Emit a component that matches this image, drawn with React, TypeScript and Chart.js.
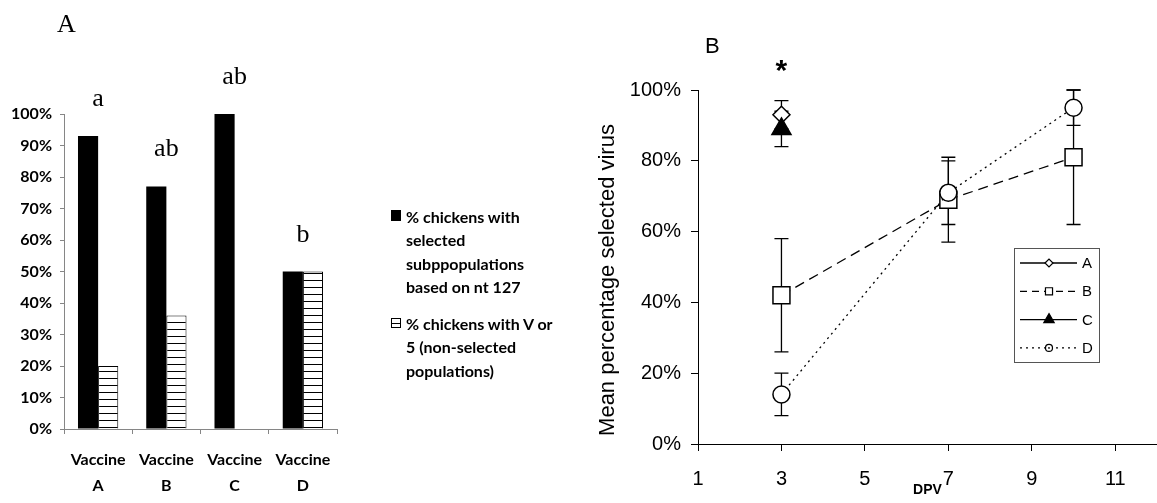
import React, { useEffect, useRef } from "react";
import { Chart, registerables } from "chart.js";

Chart.register(...registerables);

// ---------- Panel A data ----------
const vaccineLabels = [
  ["Vaccine", "A"],
  ["Vaccine", "B"],
  ["Vaccine", "C"],
  ["Vaccine", "D"],
];
const selectedPct = [93, 77, 100, 50];
const nonSelectedPct = [20, 36, 0, 50];
const sigLetters = ["a", "ab", "ab", "b"];
const legendA1 = ["% chickens with", "selected", "subppopulations", "based on nt 127"];
const legendA2 = ["% chickens with V or", "5 (non-selected", "populations)"];

// ---------- Panel B data ----------
const dpvTicks = [1, 3, 5, 7, 9, 11];
const seriesNames = ["A", "B", "C", "D"];
const yTitleB = "Mean percentage selected virus";
const dpvA = [3];
const meanA = [93];
const errA = [4];
const dpvB = [3, 7, 10];
const meanB = [42, 69, 81];
const errB = [16, 12, 19];
const dpvC = [3];
const meanC = [89];
const errC = [5];
const dpvD = [3, 7, 10];
const meanD = [14, 71, 95];
const errD = [6, 9, 5];

const toPts = (xs: number[], ys: number[]) => xs.map((x, i) => ({ x, y: ys[i] }));

const letterPlugin = {
  id: "sigLetters",
  afterDraw(chart: any) {
    const { ctx, scales } = chart;
    const x = scales.x;
    const y = scales.y;
    ctx.save();
    ctx.fillStyle = "#000";
    ctx.font = '26px "Liberation Serif"';
    ctx.textAlign = "center";
    ctx.textBaseline = "alphabetic";
    sigLetters.forEach((t, i) => {
      const top = Math.max(selectedPct[i], nonSelectedPct[i]);
      ctx.fillText(t, x.getPixelForValue(i), y.getPixelForValue(top) - 30);
    });
    ctx.textAlign = "left";
    ctx.fillText("A", 57, 32);
    ctx.restore();
  },
};

function drawMarker(ctx: CanvasRenderingContext2D, style: string, x: number, y: number, r: number, fill: string) {
  ctx.beginPath();
  if (style === "rectRot") {
    ctx.moveTo(x - r, y);
    ctx.lineTo(x, y - r);
    ctx.lineTo(x + r, y);
    ctx.lineTo(x, y + r);
    ctx.closePath();
  } else if (style === "rect") {
    const s = r * Math.SQRT1_2;
    ctx.rect(x - s, y - s, 2 * s, 2 * s);
  } else if (style === "triangle") {
    for (let k = 0; k < 3; k++) {
      const a = (k * 2 * Math.PI) / 3;
      const px = x + Math.sin(a) * r;
      const py = y - Math.cos(a) * r;
      if (k === 0) ctx.moveTo(px, py);
      else ctx.lineTo(px, py);
    }
    ctx.closePath();
  } else {
    ctx.arc(x, y, r, 0, Math.PI * 2);
  }
  ctx.fillStyle = fill;
  ctx.fill();
  ctx.stroke();
  if (style === "circle") {
    ctx.beginPath();
    ctx.arc(x, y, 0.9, 0, Math.PI * 2);
    ctx.fillStyle = "#000";
    ctx.fill();
  }
}

const errorBarsPlugin = {
  id: "errorBars",
  beforeDatasetsDraw(chart: any) {
    const { ctx, scales } = chart;
    const x = scales.x;
    const y = scales.y;
    ctx.save();
    ctx.strokeStyle = "#000";
    ctx.lineWidth = 1.3;
    ctx.setLineDash([]);
    chart.data.datasets.forEach((ds: any) => {
      ds.data.forEach((p: any, i: number) => {
        const e = ds.errors[i];
        const px = x.getPixelForValue(p.x);
        const t = y.getPixelForValue(p.y + e);
        const b = y.getPixelForValue(p.y - e);
        const cap = 7;
        ctx.beginPath();
        ctx.moveTo(px, t);
        ctx.lineTo(px, b);
        ctx.moveTo(px - cap, t);
        ctx.lineTo(px + cap, t);
        ctx.moveTo(px - cap, b);
        ctx.lineTo(px + cap, b);
        ctx.stroke();
      });
    });
    ctx.restore();
  },
};

const legendBPlugin = {
  id: "legendB",
  afterDraw(chart: any) {
    const { ctx, chartArea } = chart;
    const left = chartArea.left + 316;
    const top = chartArea.top + 158;
    const w = 85;
    const h = 114;
    ctx.save();
    ctx.fillStyle = "#fff";
    ctx.fillRect(left, top, w, h);
    ctx.strokeStyle = "#555";
    ctx.lineWidth = 1;
    ctx.strokeRect(left + 0.5, top + 0.5, w, h);
    const styles = ["rectRot", "rect", "triangle", "circle"];
    const dashes = [[], [7, 5], [], [2, 4]];
    const fills = ["#fff", "#fff", "#000", "#fff"];
    const sizes = [4, 5, 6, 3.5];
    seriesNames.forEach((name, i) => {
      const cy = top + 15 + i * 28.3;
      ctx.strokeStyle = "#000";
      ctx.lineWidth = 1.3;
      ctx.setLineDash(dashes[i]);
      ctx.beginPath();
      ctx.moveTo(left + 6, cy);
      ctx.lineTo(left + 63, cy);
      ctx.stroke();
      ctx.setLineDash([]);
      ctx.lineWidth = 1.2;
      drawMarker(ctx, styles[i], left + 35, cy, sizes[i], fills[i]);
      ctx.fillStyle = "#000";
      ctx.font = '15px "Liberation Sans"';
      ctx.textAlign = "left";
      ctx.textBaseline = "middle";
      ctx.fillText(name, left + 68, cy + 1);
    });
    // y-axis title
    ctx.save();
    ctx.translate(chartArea.left - 90, (chartArea.top + chartArea.bottom) / 2 + 13);
    ctx.rotate(-Math.PI / 2);
    ctx.font = '22px "Liberation Sans"';
    ctx.textAlign = "center";
    ctx.textBaseline = "middle";
    ctx.fillText(yTitleB, 0, 0);
    ctx.restore();
    // panel label and significance star
    ctx.textBaseline = "alphabetic";
    ctx.textAlign = "left";
    ctx.font = '22px "Liberation Sans"';
    ctx.fillText("B", 165, 53);
    ctx.font = 'bold 30px "Liberation Sans"';
    ctx.textAlign = "center";
    ctx.fillText("*", chart.scales.x.getPixelForValue(3), 80);
    ctx.restore();
  },
};

export default function App() {
  const refA = useRef<HTMLCanvasElement>(null);
  const refB = useRef<HTMLCanvasElement>(null);

  useEffect(() => {
    const cA = refA.current!;
    const cB = refB.current!;
    const pc = document.createElement("canvas");
    pc.width = 8;
    pc.height = 7;
    const pctx = pc.getContext("2d")!;
    pctx.fillStyle = "#fff";
    pctx.fillRect(0, 0, 8, 7);
    pctx.fillStyle = "#000";
    pctx.fillRect(0, 0, 8, 1);
    const hatch = cA.getContext("2d")!.createPattern(pc, "repeat");

    const tickFontA = { family: "Lato", weight: "bold" as const, size: 16 };

    const chartA = new Chart(cA, {
      type: "bar",
      data: {
        labels: vaccineLabels as any,
        datasets: [
          {
            label: legendA1.join(" "),
            data: selectedPct,
            backgroundColor: "#000",
            borderWidth: 0,
          },
          {
            label: legendA2.join(" "),
            data: nonSelectedPct,
            backgroundColor: hatch as any,
            borderColor: "#000",
            borderWidth: 1,
          },
        ],
      },
      options: {
        responsive: false,
        animation: false,
        layout: { autoPadding: false, padding: { left: 0, right: 33, top: 114, bottom: 0 } },
        datasets: { bar: { categoryPercentage: 0.59, barPercentage: 1 } },
        plugins: { legend: { display: false }, tooltip: { enabled: false } },
        scales: {
          x: {
            grid: { drawOnChartArea: false, drawTicks: true, tickLength: 5, color: "#868686", offset: true },
            border: { color: "#868686" },
            ticks: {
              font: { ...tickFontA, lineHeight: 26 / 16 },
              color: "#000",
              padding: 13,
              maxRotation: 0,
            },
            afterFit: (s: any) => {
              s.height = 74;
            },
          },
          y: {
            min: 0,
            max: 100,
            ticks: {
              stepSize: 10,
              callback: (v: any) => v + "%",
              font: tickFontA,
              color: "#000",
              padding: 8,
            },
            grid: { drawOnChartArea: false, tickLength: 4, color: "#868686" },
            border: { color: "#868686" },
            afterFit: (s: any) => {
              s.width = 64;
            },
          },
        },
      },
      plugins: [letterPlugin],
    });

    const common = {
      pointBackgroundColor: "#fff",
      pointBorderColor: "#000",
      pointBorderWidth: 1.5,
      borderColor: "#000",
      borderWidth: 1.3,
    };

    const chartB = new Chart(cB, {
      type: "scatter",
      data: {
        datasets: [
          { ...common, label: seriesNames[0], data: toPts(dpvA, meanA), errors: errA, pointStyle: "rectRot", pointRadius: 8.5, showLine: false, order: 2 } as any,
          { ...common, label: seriesNames[1], data: toPts(dpvB, meanB), errors: errB, pointStyle: "rect", pointRadius: 12, showLine: true, borderDash: [10, 6], order: 3 } as any,
          { ...common, label: seriesNames[2], data: toPts(dpvC, meanC), errors: errC, pointStyle: "triangle", pointRadius: 11, pointBackgroundColor: "#000", showLine: false, order: 0 } as any,
          { ...common, label: seriesNames[3], data: toPts(dpvD, meanD), errors: errD, pointStyle: "circle", pointRadius: 8.5, showLine: true, borderDash: [2, 4], order: 1 } as any,
        ],
      },
      options: {
        responsive: false,
        animation: false,
        layout: { autoPadding: false, padding: { left: 51, right: 0, top: 90, bottom: 0 } },
        plugins: { legend: { display: false }, tooltip: { enabled: false } },
        scales: {
          x: {
            type: "linear",
            min: 1,
            max: 12,
            afterBuildTicks: (s: any) => {
              s.ticks = dpvTicks.map((v) => ({ value: v }));
            },
            ticks: { font: { family: "Liberation Sans", size: 20 }, color: "#000", padding: 16 },
            grid: { drawOnChartArea: false, tickLength: 7, color: "#000" },
            border: { color: "#000" },
            title: {
              display: true,
              text: "DPV",
              color: "#000",
              font: { family: "Liberation Sans", weight: "bold", size: 14 },
              padding: { top: 0, bottom: 4 },
            },
            afterFit: (s: any) => {
              s.height = 59;
            },
          },
          y: {
            min: 0,
            max: 100,
            ticks: {
              stepSize: 20,
              callback: (v: any) => v + "%",
              font: { family: "Liberation Sans", size: 20 },
              color: "#000",
              padding: 10,
            },
            grid: { drawOnChartArea: false, tickLength: 7, color: "#000" },
            border: { color: "#000" },
            afterFit: (s: any) => {
              s.width = 107;
            },
          },
        },
      },
      plugins: [errorBarsPlugin, legendBPlugin],
    });

    return () => {
      chartA.destroy();
      chartB.destroy();
    };
  }, []);

  const legendText: React.CSSProperties = {
    position: "absolute",
    left: 406,
    fontFamily: "Lato",
    fontWeight: "bold",
    fontSize: 16,
    lineHeight: "23.3px",
    whiteSpace: "nowrap",
    color: "#000",
  };

  return (
    <div style={{ position: "fixed", left: 0, top: 0, width: 1157, height: 503, background: "#fff", overflow: "hidden" }}>
      <canvas ref={refA} width={370} height={503} style={{ position: "absolute", left: 0, top: 0 }} />
      <canvas ref={refB} width={617} height={503} style={{ position: "absolute", left: 540, top: 0 }} />
      <div style={{ position: "absolute", left: 391, top: 210, width: 10, height: 11, background: "#000" }} />
      <div style={{ ...legendText, top: 205 }}>
        {legendA1.map((t, i) => (
          <div key={i}>{t}</div>
        ))}
      </div>
      <div
        style={{
          position: "absolute",
          left: 391,
          top: 318,
          width: 8,
          height: 8,
          background: "#fff",
          border: "1px solid #000",
        }}
      >
        <div style={{ position: "absolute", left: 0, top: 3.5, width: 8, height: 1, background: "#000" }} />
      </div>
      <div style={{ ...legendText, top: 312 }}>
        {legendA2.map((t, i) => (
          <div key={i}>{t}</div>
        ))}
      </div>
    </div>
  );
}
